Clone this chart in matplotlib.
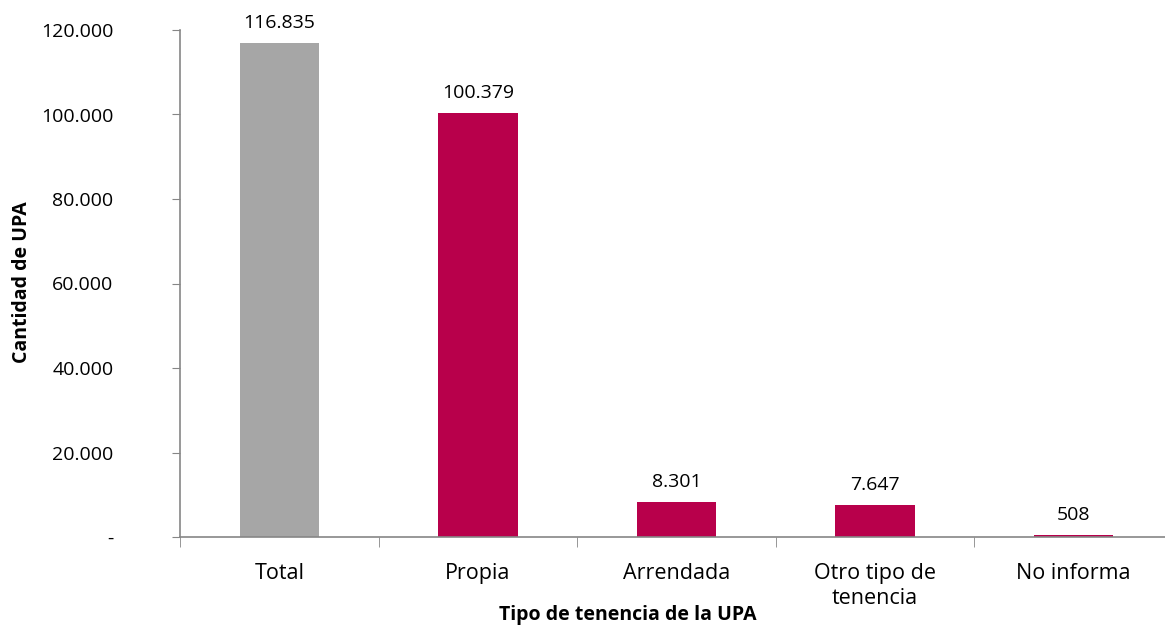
import matplotlib.pyplot as plt
import numpy as np

categorias = ["Total", "Propia", "Arrendada", "Otro tipo de\ntenencia", "No informa"]
valores = [116835, 100379, 8301, 7647, 508]
colores = ["#A6A6A6", "#B8004B", "#B8004B", "#B8004B", "#B8004B"]
yticks = [0, 20000, 40000, 60000, 80000, 100000, 120000]

plt.rcParams['font.family'] = ['Open Sans', 'DejaVu Sans']


def miles(v):
    if v == 0:
        return "-"
    return f"{v:,}".replace(",", ".")


fig = plt.figure(figsize=(11.65, 6.28), dpi=100)
ax = fig.add_axes([180 / 1165, 91 / 628, 1 - 180 / 1165, 507 / 628])

x = np.arange(len(categorias))
ax.bar(x, valores, width=0.4, color=colores)

for xi, v in zip(x, valores):
    ax.annotate(miles(v), (xi, v), xytext=(0, 8), textcoords="offset points",
                ha="center", va="bottom", fontsize=14)

ax.set_xlim(-0.5, 4.46)
ax.set_ylim(0, 120000)
ax.set_yticks(yticks)
ax.set_yticklabels([miles(t) for t in yticks], fontsize=14)
ax.set_xticks(x)
ax.set_xticklabels(categorias, fontsize=15.5, linespacing=1.2)
ax.set_xticks(np.arange(-0.5, 4.5, 1), minor=True)
ax.tick_params(axis="x", which="major", length=0, pad=19)
ax.tick_params(axis="x", which="minor", length=7, color="#868686", direction="out")
ax.tick_params(axis="y", length=6, color="#868686", pad=42)

for s in ["top", "right"]:
    ax.spines[s].set_visible(False)
for s in ["left", "bottom"]:
    ax.spines[s].set_color("#868686")
    ax.spines[s].set_linewidth(1.2)

ax.set_ylabel("Cantidad de UPA", fontsize=14, fontweight="bold", va="center")
ax.yaxis.set_label_coords(-(180 - 22) / 985, (537 - 282) / 507)
ax.set_xlabel("Tipo de tenencia de la UPA", fontsize=14, fontweight="bold", va="center")
ax.xaxis.set_label_coords((628 - 180) / 985, -(615 - 537) / 507)

fig.savefig("out.png", dpi=100)
